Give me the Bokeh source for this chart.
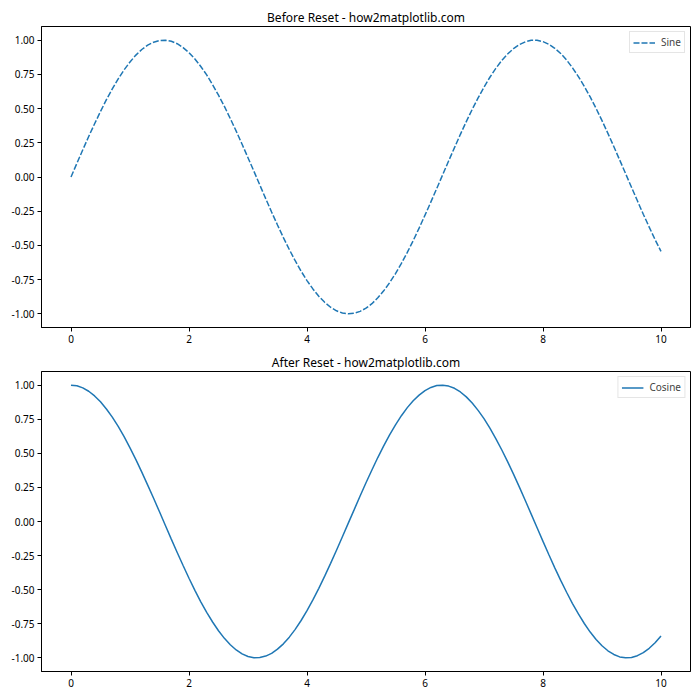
from bokeh.plotting import figure
from bokeh.layouts import column
from bokeh.models import FixedTicker, NumeralTickFormatter, Range1d, ColumnDataSource
from bokeh.embed import file_html
from bokeh.resources import INLINE

x_vals = [0.0, 0.1, 0.2, 0.3, 0.4, 0.5, 0.6, 0.7, 0.8, 0.9,
          1.0, 1.1, 1.2, 1.3, 1.4, 1.5, 1.6, 1.7, 1.8, 1.9,
          2.0, 2.1, 2.2, 2.3, 2.4, 2.5, 2.6, 2.7, 2.8, 2.9,
          3.0, 3.1, 3.2, 3.3, 3.4, 3.5, 3.6, 3.7, 3.8, 3.9,
          4.0, 4.1, 4.2, 4.3, 4.4, 4.5, 4.6, 4.7, 4.8, 4.9,
          5.0, 5.1, 5.2, 5.3, 5.4, 5.5, 5.6, 5.7, 5.8, 5.9,
          6.0, 6.1, 6.2, 6.3, 6.4, 6.5, 6.6, 6.7, 6.8, 6.9,
          7.0, 7.1, 7.2, 7.3, 7.4, 7.5, 7.6, 7.7, 7.8, 7.9,
          8.0, 8.1, 8.2, 8.3, 8.4, 8.5, 8.6, 8.7, 8.8, 8.9,
          9.0, 9.1, 9.2, 9.3, 9.4, 9.5, 9.6, 9.7, 9.8, 9.9, 10.0]

sine_vals = [0.000, 0.100, 0.199, 0.296, 0.389, 0.479, 0.565, 0.644, 0.717, 0.783,
             0.841, 0.891, 0.932, 0.964, 0.985, 0.997, 1.000, 0.992, 0.974, 0.946,
             0.909, 0.863, 0.808, 0.746, 0.675, 0.598, 0.516, 0.427, 0.335, 0.239,
             0.141, 0.042, -0.058, -0.158, -0.256, -0.351, -0.443, -0.530, -0.612, -0.688,
             -0.757, -0.818, -0.872, -0.916, -0.952, -0.978, -0.994, -1.000, -0.996, -0.982,
             -0.959, -0.926, -0.883, -0.832, -0.773, -0.706, -0.631, -0.551, -0.465, -0.374,
             -0.279, -0.182, -0.083, 0.017, 0.117, 0.215, 0.312, 0.405, 0.494, 0.578,
             0.657, 0.729, 0.794, 0.851, 0.899, 0.938, 0.968, 0.988, 0.999, 0.999,
             0.989, 0.970, 0.941, 0.903, 0.855, 0.798, 0.734, 0.663, 0.585, 0.501,
             0.412, 0.319, 0.223, 0.124, 0.025, -0.075, -0.174, -0.272, -0.366, -0.458, -0.544]

cosine_vals = [1.000, 0.995, 0.980, 0.955, 0.921, 0.878, 0.825, 0.765, 0.697, 0.622,
               0.540, 0.454, 0.362, 0.267, 0.170, 0.071, -0.029, -0.129, -0.227, -0.323,
               -0.416, -0.505, -0.589, -0.666, -0.737, -0.801, -0.857, -0.904, -0.942, -0.971,
               -0.990, -0.999, -0.998, -0.987, -0.967, -0.936, -0.897, -0.848, -0.791, -0.726,
               -0.654, -0.575, -0.490, -0.401, -0.307, -0.211, -0.112, -0.012, 0.087, 0.187,
               0.284, 0.378, 0.469, 0.554, 0.635, 0.709, 0.776, 0.835, 0.886, 0.927,
               0.960, 0.983, 0.997, 1.000, 0.993, 0.977, 0.950, 0.914, 0.869, 0.815,
               0.754, 0.684, 0.608, 0.526, 0.439, 0.347, 0.252, 0.154, 0.054, -0.046,
               -0.146, -0.244, -0.340, -0.432, -0.519, -0.602, -0.678, -0.748, -0.811, -0.865,
               -0.911, -0.948, -0.975, -0.993, -1.000, -0.997, -0.984, -0.962, -0.930, -0.889, -0.839]

x_ticks = [0, 2, 4, 6, 8, 10]
y_ticks = [-1.0, -0.75, -0.5, -0.25, 0.0, 0.25, 0.5, 0.75, 1.0]
titles = ["Before Reset - how2matplotlib.com", "After Reset - how2matplotlib.com"]
labels = ["Sine", "Cosine"]

FONT = "Noto Sans"
COLOR = "#1f77b4"


def make_fig(title, height, top, bottom):
    p = figure(width=700, height=height, output_backend="svg", toolbar_location=None,
               x_range=Range1d(-0.5, 10.5), y_range=Range1d(-1.1, 1.1),
               min_border_left=41, min_border_right=10,
               min_border_top=top, min_border_bottom=bottom)
    p.title.text = title
    p.title.align = "center"
    p.title.text_font = FONT
    p.title.text_font_size = "12px"
    p.title.text_font_style = "normal"
    p.title.text_color = "black"
    p.title.standoff = 2
    p.xgrid.visible = False
    p.ygrid.visible = False
    p.outline_line_color = "black"
    p.outline_line_width = 1
    p.outline_line_alpha = 1
    for ax in (p.xaxis[0], p.yaxis[0]):
        ax.major_label_text_font = FONT
        ax.major_label_text_font_size = "10px"
        ax.major_label_text_color = "black"
        ax.major_tick_out = 4
        ax.major_tick_in = 0
        ax.minor_tick_out = 0
        ax.minor_tick_in = 0
        ax.axis_line_color = "black"
        ax.major_tick_line_color = "black"
        ax.major_label_standoff = 3
    p.xaxis[0].ticker = FixedTicker(ticks=x_ticks)
    p.yaxis[0].ticker = FixedTicker(ticks=y_ticks)
    p.yaxis[0].formatter = NumeralTickFormatter(format="0.00")
    return p


p1 = make_fig(titles[0], 348, 26, 21)
src1 = ColumnDataSource(dict(x=x_vals, y=sine_vals))
p1.line("x", "y", source=src1, line_color=COLOR, line_width=1.5, line_dash="6 2", legend_label=labels[0])

p2 = make_fig(titles[1], 352, 23, 29)
src2 = ColumnDataSource(dict(x=x_vals, y=cosine_vals))
p2.line("x", "y", source=src2, line_color=COLOR, line_width=1.5, legend_label=labels[1])

for p in (p1, p2):
    lg = p.legend[0]
    lg.location = "top_right"
    lg.margin = 5
    lg.padding = 3
    lg.spacing = 0
    lg.label_text_font = FONT
    lg.label_text_font_size = "10px"
    lg.label_height = 13
    lg.glyph_height = 13
    lg.glyph_width = 22
    lg.label_standoff = 6
    lg.border_line_color = "#cccccc"
    lg.border_line_width = 1
    lg.background_fill_alpha = 0.8

layout = column(p1, p2, spacing=0)
open("out.html", "w").write(file_html(layout, INLINE))
